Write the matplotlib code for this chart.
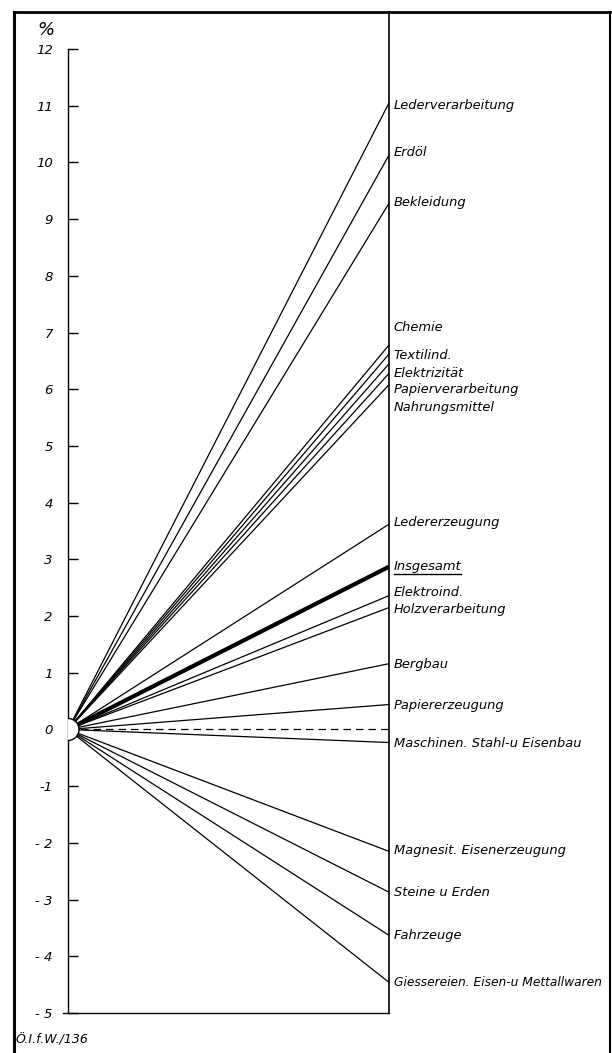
import matplotlib
matplotlib.use("Agg")
import matplotlib.pyplot as plt
from matplotlib.lines import Line2D
from matplotlib.patches import Ellipse

# ---- data ----
industries = ["Lederverarbeitung", "Erdöl", "Bekleidung", "Chemie", "Textilind.",
              "Elektrizität", "Papierverarbeitung", "Nahrungsmittel", "Ledererzeugung",
              "Insgesamt", "Elektroind.", "Holzverarbeitung", "Bergbau", "Papiererzeugung",
              "Maschinen. Stahl-u Eisenbau", "Magnesit. Eisenerzeugung", "Steine u Erden",
              "Fahrzeuge", "Giessereien. Eisen-u Mettallwaren"]
change_pct = [11.05, 10.13, 9.28, 6.78, 6.62, 6.45, 6.28, 6.08, 3.62,
              2.87, 2.36, 2.15, 1.16, 0.44, -0.23, -2.15, -2.87, -3.63, -4.46]
tick_values = list(range(12, -6, -1))
tick_labels = ["12", "11", "10", "9", "8", "7", "6", "5", "4", "3", "2", "1", "0",
               "-1", "- 2", "- 3", "- 4", "- 5"]
footer = "Ö.I.f.W./136"

# ---- layout (label placement, separate from data) ----
label_pos = [11.0, 10.18, 9.3, 7.09, 6.6, 6.28, 6.0, 5.68, 3.65,
             2.87, 2.41, 2.11, 1.14, 0.42, -0.25, -2.14, -2.87, -3.63, -4.46]

W, H = 612, 1053
fig = plt.figure(figsize=(W / 100, H / 100), dpi=100)
x0, x1 = 68, 389
y_top, y_bot = 49, 1013
ax = fig.add_axes([x0 / W, 1 - y_bot / H, (x1 - x0) / W, (y_bot - y_top) / H])
ax.set_xlim(0, 1)
ax.set_ylim(-5, 12)

font = dict(family="DejaVu Sans", style="italic")

for name, v in zip(industries, change_pct):
    lw = 3.0 if name == "Insgesamt" else 0.9
    ax.plot([0, 1], [0, v], color="black", lw=lw, solid_capstyle="butt", zorder=2)

# dashed zero reference
ax.plot([0, 1], [0, 0], color="black", lw=0.9, ls=(0, (6, 4)), zorder=2)

# origin disc
px_per_x = (x1 - x0)
px_per_y = (y_bot - y_top) / 17.0
r = 11
ax.add_patch(Ellipse((0, 0), 2 * r / px_per_x, 2 * r / px_per_y, facecolor="white",
                     edgecolor="black", lw=1.0, zorder=4))

# spines
ax.spines["top"].set_visible(False)
ax.spines["right"].set_visible(False)
ax.spines["left"].set_linewidth(1.0)
ax.spines["bottom"].set_linewidth(1.0)
top_val = (y_bot - 12) / px_per_y - 5
ax.plot([1, 1], [-5, top_val], color="black", lw=1.2, clip_on=False, zorder=5)
ax.plot([-5 / px_per_x, 0], [-5, -5], color="black", lw=1.0, clip_on=False)

ax.set_xticks([])
ax.set_yticks(tick_values)
ax.set_yticklabels(tick_labels, fontsize=9.5, **font)
ax.tick_params(axis="y", direction="in", length=7.5, width=1.0, pad=11)

labels = {}
for name, ly in zip(industries, label_pos):
    labels[name] = ax.text(1.015, ly, name, fontsize=9.4, va="center", ha="left",
                           clip_on=False, **font)

fig.text(46 / W, 1 - 30 / H, "%", fontsize=13, ha="center", va="center", **font)
fig.text(16 / W, 1 - 1040 / H, footer, fontsize=9, ha="left", va="center", **font)

# outer frame
fig.add_artist(Line2D([14 / W, 14 / W], [0, 1 - 12 / H], color="black", lw=2.2,
                      transform=fig.transFigure))
fig.add_artist(Line2D([14 / W, 610 / W], [1 - 12 / H, 1 - 12 / H], color="black", lw=2.0,
                      transform=fig.transFigure))
fig.add_artist(Line2D([610 / W, 610 / W], [0, 1 - 12 / H], color="black", lw=1.5,
                      transform=fig.transFigure))

# shrink any label that would run past the right border
fig.canvas.draw()
renderer = fig.canvas.get_renderer()
for t in labels.values():
    fs = t.get_fontsize()
    while t.get_window_extent(renderer).x1 > 606 and fs > 6:
        fs -= 0.2
        t.set_fontsize(fs)

# underline "Insgesamt"
bb = labels["Insgesamt"].get_window_extent(renderer)
inv = fig.transFigure.inverted()
(bx0, by0), (bx1, by1) = inv.transform([[bb.x0, bb.y0], [bb.x1, bb.y1]])
fig.add_artist(Line2D([bx0, bx1], [by0 - 0.001, by0 - 0.001], color="black", lw=1.0,
                      transform=fig.transFigure))

fig.savefig("out.png", dpi=100, facecolor="white")
